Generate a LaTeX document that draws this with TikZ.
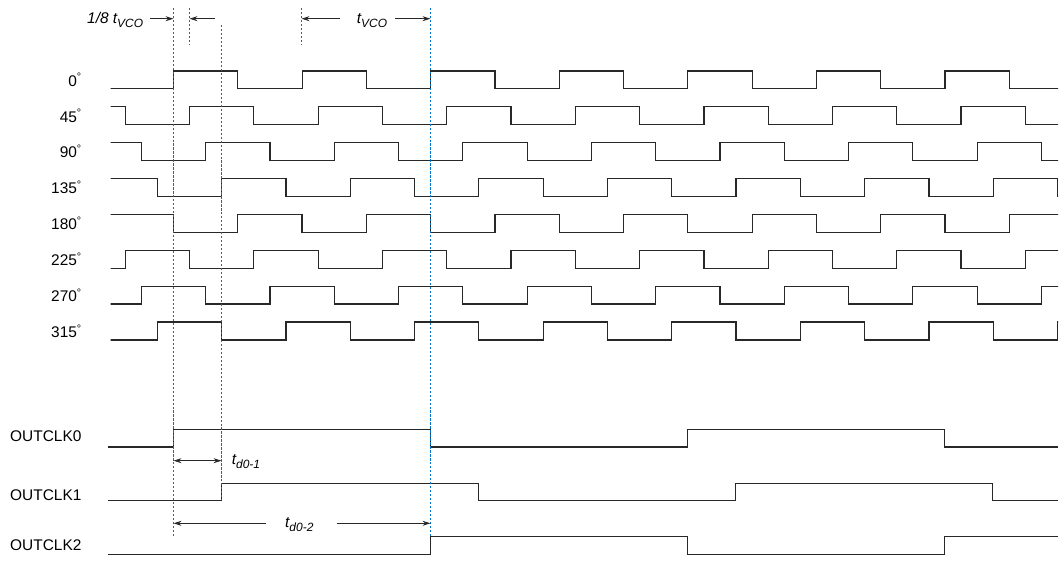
\documentclass[tikz,border=0pt]{standalone}
\usepackage{fontspec}
\setmainfont{Liberation Sans}
\usetikzlibrary{arrows.meta, positioning, calc}

\definecolor{guide}{RGB}{0,112,200}
\definecolor{wave}{RGB}{40,40,40}

\newcommand{\lowidx}[1]{\raisebox{-4.5pt}{\fontsize{12}{12}\selectfont #1}}

\tikzset{
    >={Stealth[length=8pt,width=5pt]},
    signal/.style={draw=wave, line width=1.2pt},
    guideline/.style={draw=guide, line width=1.3pt, dash pattern=on 2.2pt off 1.8pt},
    dim/.style={draw=wave, line width=0.9pt, ->},
    dimboth/.style={draw=wave, line width=0.9pt, <->},
    lbl/.style={inner sep=0pt, font=\fontsize{15.5}{18}\selectfont},
}

\begin{document}
\begin{tikzpicture}[x=1bp, y=-1bp]
    \useasboundingbox (0,0) rectangle (1059,575);

    % eight VCO phases
    \begin{scope}
        \clip (110.5,0) rectangle (1058,360);
        \foreach \lab [count=\k from 0] in {0,45,90,135,180,225,270,315} {
            \pgfmathsetmacro{\hi}{71+35.86*\k}
            \pgfmathsetmacro{\rise}{173.5+16.07*\k-2*128.57}
            \draw[signal] (\rise-64.29,\hi+17.9) -- (\rise,\hi+17.9)
                \foreach \n in {1,...,9} { -- ++(0,-17.9) -- ++(64.29,0) -- ++(0,17.9) -- ++(64.29,0) };
        }
    \end{scope}
    \foreach \lab [count=\k from 0] in {0,45,90,135,180,225,270,315}
        \node[lbl, anchor=base east] (p\lab) at (82,71+35.86*\k+15.2) {\lab\textsuperscript{°}};

    % output clocks
    \node[lbl, anchor=base west] (oc0) at (10,441.7) {OUTCLK0};
    \node[lbl, anchor=base west] (oc1) at (10,500) {OUTCLK1};
    \node[lbl, anchor=base west] (oc2) at (10,550.7) {OUTCLK2};
    \draw[signal] (108,447) -| (173.5,429.3) -| (430.5,447) -| (687.5,429.3) -| (944.5,447) -- (1058,447);
    \draw[signal] (108,500.3) -| (221.5,483.3) -| (478.5,500.3) -| (735.5,483.3) -| (992.5,500.3) -- (1058,500.3);
    \draw[signal] (108,554.3) -| (430.5,536.7) -| (687.5,554.3) -| (944.5,536.7) -- (1058,536.7);

    % guide lines
    \coordinate (g0t) at (173.5,8);    \coordinate (g0b) at (173.5,538);
    \coordinate (g1t) at (189.5,8);    \coordinate (g1b) at (189.5,45);
    \coordinate (g3t) at (221.5,25);   \coordinate (g3b) at (221.5,500);
    \coordinate (g8t) at (301.5,8);    \coordinate (g8b) at (301.5,45);
    \coordinate (g16t) at (430.5,8);   \coordinate (g16b) at (430.5,537);
    \draw[guideline] (g0t) -- (g0b);
    \draw[guideline] (g1t) -- (g1b);
    \draw[guideline] (g3t) -- (g3b);
    \draw[guideline] (g8t) -- (g8b);
    \draw[guideline] (g16t) -- (g16b);

    % timing labels
    \node[lbl, anchor=base west] (eighth) at (87,23.3) {\textit{1/8 t\lowidx{VCO}}};
    \node[lbl, anchor=base west] (tvco) at (356.7,23.3) {\textit{t\lowidx{VCO}}};
    \node[lbl, anchor=base west] (td01) at (231.7,464) {\textit{t\lowidx{d0-1}}};
    \node[lbl, anchor=base west] (td02) at (285,527.3) {\textit{t\lowidx{d0-2}}};

    \coordinate (v1) at (150,18.7);
    \coordinate (v2) at (215,18.7);
    \coordinate (v3) at (340,18.7);
    \coordinate (v4) at (395,18.7);
    \coordinate (d1) at (200,460.7);
    \coordinate (d2l) at (266,523.3);
    \coordinate (d2r) at (336.7,523.3);
    \draw[dim] (v1) -- (g0t |- v1);
    \draw[dim] (v2) -- (g1t |- v2);
    \draw[dim] (v3) -- (g8t |- v3);
    \draw[dim] (v4) -- (g16t |- v4);
    \draw[dimboth] (g0t |- d1) -- (g3t |- d1);
    \draw[dim] (d2l) -- (g0t |- d2l);
    \draw[dim] (d2r) -- (g16t |- d2r);
\end{tikzpicture}
\end{document}
